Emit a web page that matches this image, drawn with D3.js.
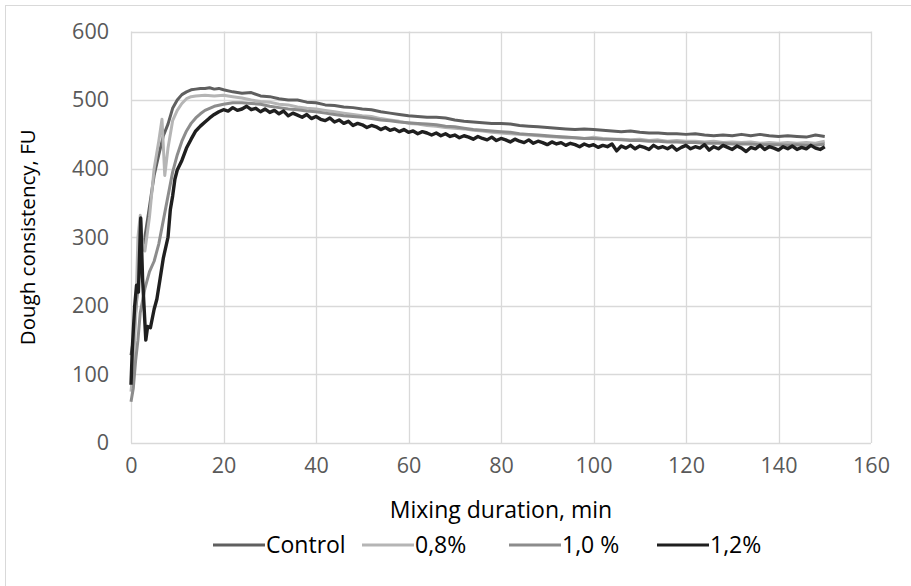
<!DOCTYPE html>
<html>
<head>
<meta charset="utf-8">
<script src="https://cdn.jsdelivr.net/npm/d3@7"></script>
<style>
  body { margin: 0; background: #fff; }
  svg text { font-family: "Open Sans", sans-serif; }
</style>
</head>
<body>
<svg id="chart" width="911" height="586"></svg>
<script>
// values (min, FU)
var controlT = [0,0.5,1,1.5,2,3,4,5,6,7,8,9,10,11,12,13,14,15,16,17,18,19,20,22,24,26,28,30,32,34,36,38,40,42,44,46,48,50,52,54,56,58,60,62,64,66,68,70,72,74,76,78,80,82,84,86,88,90,92,94,96,98,100,102,104,106,108,110,112,114,116,118,120,122,124,126,128,130,132,134,136,138,140,142,144,146,148,150];
var controlV = [128,150,190,230,270,300,345,390,420,448,465,488,500,508,512,515,516,517,517,518,516,517,515,512,510,511,506,505,502,500,500,497,496,493,492,490,489,487,486,483,481,479,477,476,475,475,474,471,469,468,467,466,466,465,463,462,461,460,459,458,457,458,457,456,455,454,455,453,452,452,451,451,450,451,449,448,449,448,450,448,450,448,447,448,447,446,449,447];

var p08T = [0,0.5,1,1.5,2,2.5,3,4,5,6,6.7,7.3,8,9,10,11,12,13,14,16,18,20,22,24,26,28,30,32,34,36,38,40,42,44,46,48,50,52,54,56,58,60,62,64,66,68,70,72,74,76,78,80,82,84,86,88,90,92,94,96,98,100,102,104,106,108,110,112,114,116,118,120,122,124,126,128,130,132,134,136,138,140,142,144,146,148,150];
var p08V = [75,110,180,300,332,290,280,330,400,440,472,390,430,470,485,495,502,505,506,507,506,507,505,503,500,498,497,494,493,490,488,487,485,483,481,479,477,476,473,471,469,466,465,463,462,460,459,458,456,455,453,452,451,450,449,448,447,446,445,445,444,446,444,443,443,442,443,441,442,440,441,440,440,439,440,438,439,438,439,437,438,437,438,437,438,437,440];

var p10T = [0,0.5,1,1.5,2,3,4,5,6,7,8,9,10,11,12,13,14,15,16,18,20,22,24,26,28,30,32,34,36,38,40,42,44,46,48,50,52,54,56,58,60,62,64,66,68,70,72,74,76,78,80,82,84,86,88,90,92,94,96,98,100,102,104,106,108,110,112,114,116,118,120,122,124,126,128,130,132,134,136,138,140,142,144,146,148,150];
var p10V = [60,80,120,150,190,225,250,265,290,325,360,395,420,440,455,466,474,480,485,491,494,496,496,495,494,491,489,487,486,484,483,481,479,477,476,475,473,471,470,468,467,466,465,464,462,461,459,457,456,455,454,453,451,450,449,448,447,446,445,444,444,443,443,442,441,441,440,440,439,439,438,438,437,437,437,436,436,436,435,435,435,434,435,434,434,436];

var p12Early = [0,0.3,0.8,1.2,1.6,2.1,2.5,3.2,3.6,4.2,5,5.6,6.3,7,8,8.5,9,9.5,10,11,12,13,14,15,16,17,18,19];
var p12T = p12Early.concat(d3.range(20, 151));   // sampled every minute from 20 min on
var p12V = [85,140,200,230,220,328,240,150,170,168,195,210,240,270,300,340,360,385,398,412,430,443,455,462,468,474,479,483,
  486,484,489,485,487,491,486,488,483,487,482,485,480,484,477,481,478,475,479,473,476,472,470,474,468,471,466,469,463,466,
  464,460,463,461,457,460,456,458,454,457,453,455,451,454,452,449,452,448,451,447,449,445,448,446,443,447,444,442,446,441,
  444,442,439,443,440,438,442,437,440,438,435,439,436,438,434,437,435,432,436,433,435,431,434,432,436,426,433,430,434,429,
  433,431,428,434,430,432,429,433,427,431,434,429,432,430,435,427,432,429,434,431,428,433,430,425,431,429,434,428,432,430,
  427,432,429,433,428,431,429,434,430,428,432];

var seriesNames = ["Control", "0,8%", "1,0 %", "1,2%"];
var seriesColors = ["#5f5f5f", "#b5b5b5", "#8c8c8c", "#1f1f1f"];
var xTicks = [0,20,40,60,80,100,120,140,160];
var yTicks = [0,100,200,300,400,500,600];

var series = [
  {name: seriesNames[0], t: controlT, v: controlV, color: seriesColors[0]},
  {name: seriesNames[1], t: p08T, v: p08V, color: seriesColors[1]},
  {name: seriesNames[2], t: p10T, v: p10V, color: seriesColors[2]},
  {name: seriesNames[3], t: p12T, v: p12V, color: seriesColors[3]}
];

var svg = d3.select("#chart");
var plotL = 131, plotR = 871, plotT = 31.5, plotB = 443;

// outer chart border (only top and left edges show in the frame)
svg.append("rect")
  .attr("x", 5.5).attr("y", 5.5)
  .attr("width", 940).attr("height", 620)
  .attr("fill", "none").attr("stroke", "#d9d9d9");

var x = d3.scaleLinear().domain([0,160]).range([plotL, plotR]);
var y = d3.scaleLinear().domain([0,600]).range([plotB, plotT]);

// grid
svg.append("g").selectAll("line").data(yTicks).join("line")
  .attr("x1", plotL).attr("x2", plotR)
  .attr("y1", d => Math.round(y(d)) + 0.5).attr("y2", d => Math.round(y(d)) + 0.5)
  .attr("stroke", "#d9d9d9").attr("stroke-width", 1.3);
svg.append("g").selectAll("line").data(xTicks).join("line")
  .attr("y1", plotT).attr("y2", plotB)
  .attr("x1", d => Math.round(x(d)) + 0.5).attr("x2", d => Math.round(x(d)) + 0.5)
  .attr("stroke", "#d9d9d9").attr("stroke-width", 1.3);

// axes labels
var xAxis = svg.append("g")
  .attr("transform", "translate(0," + plotB + ")")
  .call(d3.axisBottom(x).tickValues(xTicks).tickSize(0).tickPadding(15));
var yAxis = svg.append("g")
  .attr("transform", "translate(" + plotL + ",0)")
  .call(d3.axisLeft(y).tickValues(yTicks).tickSize(0).tickPadding(22));
[xAxis, yAxis].forEach(function(a){
  a.select(".domain").remove();
  a.selectAll("text").attr("fill", "#595959").style("font-size", "21.5px")
    .style("font-family", "'Open Sans', sans-serif");
});

svg.append("text")
  .attr("x", (plotL + plotR) / 2).attr("y", 518)
  .attr("text-anchor", "middle")
  .style("font-size", "23px").attr("fill", "#000")
  .text("Mixing duration, min");

svg.append("text")
  .attr("transform", "translate(35," + ((plotT + plotB) / 2) + ") rotate(-90)")
  .attr("text-anchor", "middle")
  .style("font-size", "20.5px").attr("fill", "#000")
  .text("Dough consistency, FU");

// lines
var line = d3.line().x(d => x(d[0])).y(d => y(d[1]));
series.forEach(function(s, i){
  var pts = s.t.map((t, k) => [t, s.v[k]]);
  svg.append("path")
    .datum(pts)
    .attr("d", line)
    .attr("fill", "none")
    .attr("stroke", s.color)
    .attr("stroke-width", i === 3 ? 3.4 : 3)
    .attr("stroke-linejoin", "round");
});

// legend
var legendX = [213, 362, 509, 657];
var lg = svg.append("g");
series.forEach(function(s, i){
  lg.append("line")
    .attr("x1", legendX[i]).attr("x2", legendX[i] + 52)
    .attr("y1", 545).attr("y2", 545)
    .attr("stroke", s.color).attr("stroke-width", 3);
  lg.append("text")
    .attr("x", legendX[i] + 53).attr("y", 553)
    .style("font-size", "23px").attr("fill", "#000")
    .text(s.name);
});
</script>
</body>
</html>
